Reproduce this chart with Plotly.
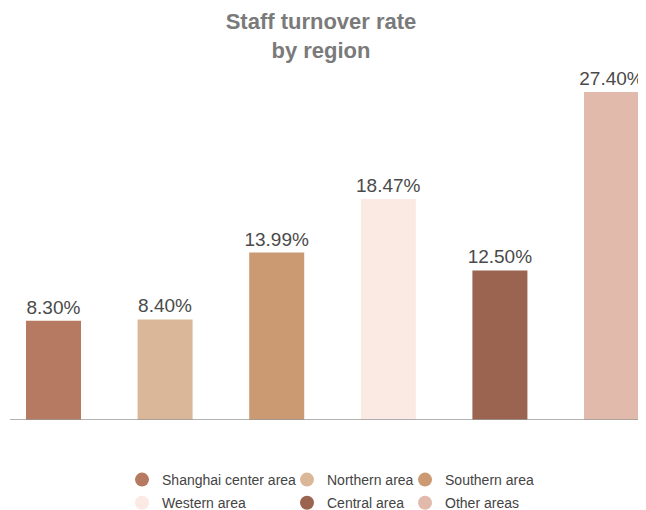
import plotly.graph_objects as go

regions = ["Shanghai center area", "Northern area", "Southern area",
           "Western area", "Central area", "Other areas"]
turnover = [8.30, 8.40, 13.99, 18.47, 12.50, 27.40]
colors = ["#B57A61", "#DBB79A", "#CC9A72", "#FBE9E3", "#9A6450", "#E2BAAC"]
# which legend column each region goes in
legend_cols = ["legend", "legend2", "legend3", "legend", "legend2", "legend3"]

fig = go.Figure()

fig.add_trace(go.Bar(
    x=regions, y=turnover,
    marker=dict(color=colors, line=dict(width=0)),
    width=0.493,
    texttemplate="%{y:.2f}%", textposition="outside", cliponaxis=False,
    constraintext="none",
    textfont=dict(size=19, color="#4a4a4a"),
    showlegend=False, hoverinfo="skip"))

# dummy traces so the legend shows round markers
for name, col, lg in zip(regions, colors, legend_cols):
    fig.add_trace(go.Scatter(
        x=[None], y=[None], mode="markers", name=name,
        marker=dict(color=col, size=14, symbol="circle"),
        legend=lg, legendgroup=name))

leg_style = dict(orientation="v", yanchor="top", y=-0.1226, xanchor="left",
                 font=dict(size=14, color="#444444"), tracegroupgap=2,
                 bgcolor="rgba(0,0,0,0)", itemclick=False)

# page body has an 8px margin, so the figure is 8px smaller than the window
fig.update_layout(
    width=638, height=502,
    margin=dict(l=0, r=0, t=53, b=90, autoexpand=False),
    paper_bgcolor="white", plot_bgcolor="white",
    font=dict(family="Liberation Sans, Arial, sans-serif", color="#444444"),
    title=dict(text="<b>Staff turnover rate<br>by region</b>",
               xref="container", x=0.4906, xanchor="center",
               yref="container", y=0.958, yanchor="top",
               font=dict(size=22, color="#7a7a7a")),
    xaxis=dict(visible=False, range=[-0.4077, 5.309]),
    yaxis=dict(visible=False, range=[0, 30]),
    legend=dict(x=0.1787, **leg_style),
    legend2=dict(x=0.4373, **leg_style),
    legend3=dict(x=0.6223, **leg_style),
    shapes=[dict(type="line", xref="paper", yref="y", x0=2 / 638, x1=1,
                 y0=0, y1=0, line=dict(color="#999999", width=1.5))],
)

fig.write_html("out.html")
